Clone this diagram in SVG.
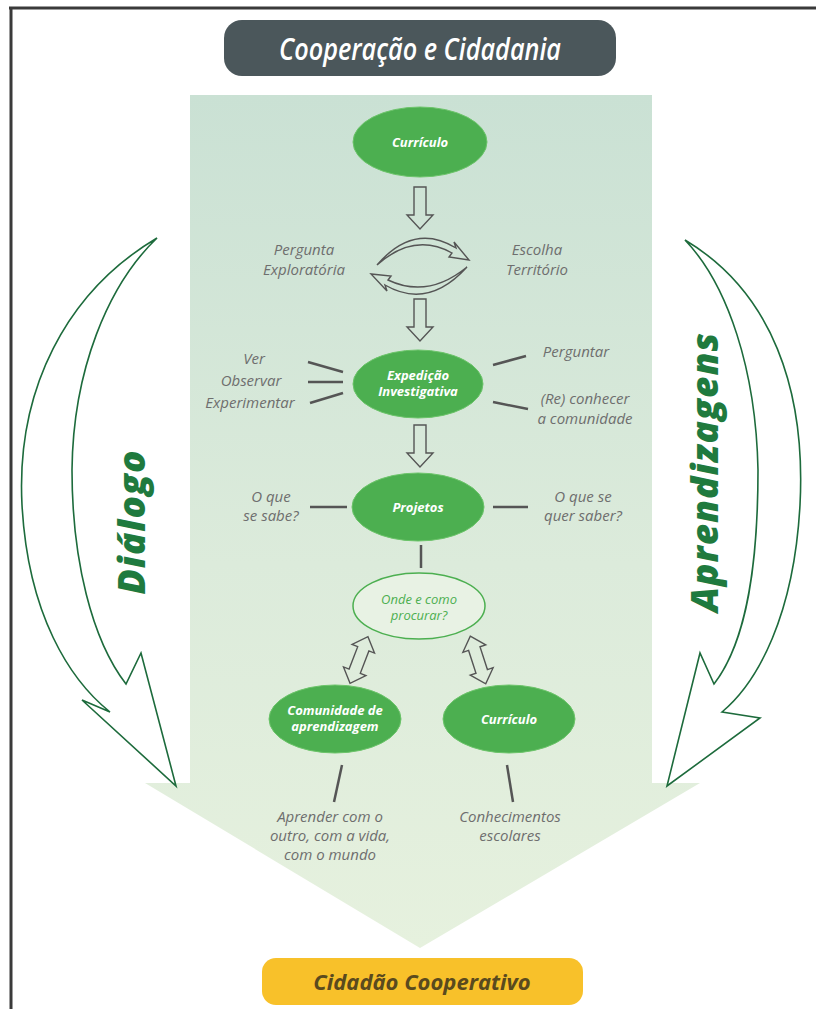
<svg xmlns="http://www.w3.org/2000/svg" width="816" height="1009" viewBox="0 0 816 1009">
  <defs>
    <linearGradient id="panelFill" x1="0" y1="0" x2="0" y2="1">
      <stop offset="0" stop-color="#cae1d4"/>
      <stop offset="0.55" stop-color="#dcebdb"/>
      <stop offset="1" stop-color="#e6f1de"/>
    </linearGradient>
    <!-- hollow block arrow pointing down, 42px long -->
    <path id="downArrow" d="M-6,0 H6 V28 H13 L0,42 L-13,28 H-6 Z"/>
    <!-- hollow double-headed arrow, 50px long -->
    <path id="dblArrow" d="M0,0 L12,13 H6 V37 H12 L0,50 L-12,37 H-6 V13 H-12 Z"/>
    <style>
      .frame { stroke: #3a3a3a; stroke-width: 3; }
      .hollow { fill: none; stroke: #555; stroke-width: 1.4; stroke-linejoin: miter; }
      .tick { stroke: #555; stroke-width: 2.5; stroke-linecap: butt; }
      .node { fill: #4caf50; stroke: #6cc46a; stroke-width: 1; }
      .nodeText { font-family: "Open Sans", "Liberation Sans", sans-serif; font-style: italic; font-weight: 700; font-size: 13px; fill: #ffffff; text-anchor: middle; }
      .label { font-family: "Open Sans", "Liberation Sans", sans-serif; font-style: italic; font-size: 15px; fill: #6e6e6e; text-anchor: middle; }
      .outlineNode { fill: #e8f2e4; stroke: #4caf50; stroke-width: 1.5; }
      .outlineText { font-family: "Open Sans", "Liberation Sans", sans-serif; font-style: italic; font-size: 13px; fill: #4caf50; text-anchor: middle; }
      .bigArrow { fill: #ffffff; stroke: #1d6b3c; stroke-width: 1.6; stroke-linejoin: miter; }
      .sideText { font-family: "Open Sans", "Liberation Sans", sans-serif; font-style: italic; font-weight: 800; font-size: 37px; letter-spacing: 1px; fill: #1f7a3e; text-anchor: middle; }
    </style>
  </defs>

  <rect width="816" height="1009" fill="#ffffff"/>

  <!-- page frame -->
  <line class="frame" x1="9" y1="8" x2="816" y2="8"/>
  <line class="frame" x1="11" y1="7" x2="11" y2="1009"/>

  <!-- central flow panel ending in a wide arrowhead -->
  <path d="M190,95 H652 V783 H700 L420,948 L145,783 H190 Z" fill="url(#panelFill)"/>

  <!-- title -->
  <g id="title">
    <rect x="224" y="20" width="392" height="56" rx="18" fill="#4b575b"/>
    <text x="420" y="60" font-family="Open Sans, Liberation Sans, sans-serif" font-style="italic" font-weight="600" font-size="30" fill="#ffffff" text-anchor="middle" textLength="282" lengthAdjust="spacingAndGlyphs">Cooperação e Cidadania</text>
  </g>

  <!-- side arrows -->
  <g id="dialogo">
    <path class="bigArrow" d="M157,238 C66,292 16,390 22,505 C28,615 70,680 110,712 L82,700 L176,786 L141,653 L126,684 C92,640 72,560 72,470 C73,370 108,285 157,238 Z"/>
    <text class="sideText" transform="translate(145,522) rotate(-90)">Diálogo</text>
  </g>
  <g id="aprendizagens">
    <path class="bigArrow" d="M685,240 C772,292 806,390 800,505 C794,615 758,682 722,712 L760,718 L667,786 L700,653 L714,684 C748,640 758,560 758,470 C756,370 728,285 685,240 Z"/>
    <text class="sideText" transform="translate(718,472) rotate(-90)">Aprendizagens</text>
  </g>

  <!-- connectors -->
  <g id="connectors">
    <use href="#downArrow" class="hollow" transform="translate(420,187)"/>
    <use href="#downArrow" class="hollow" transform="translate(420,299)"/>
    <use href="#downArrow" class="hollow" transform="translate(420,425)"/>

    <!-- cycle between question and territory -->
    <path class="hollow" d="M377,265 Q414,222 456,248 L454,242 L469,260 L449,257 L452,253 Q414,232 377,265 Z"/>
    <path class="hollow" d="M467,267 Q428,310 385,285 L387,291 L371,274 L391,276 L388,280 Q428,299 467,267 Z"/>

    <!-- Expedição spokes -->
    <line class="tick" x1="308" y1="362" x2="343" y2="372"/>
    <line class="tick" x1="308" y1="382" x2="343" y2="382"/>
    <line class="tick" x1="310" y1="403" x2="343" y2="393"/>
    <line class="tick" x1="493" y1="365" x2="526" y2="356"/>
    <line class="tick" x1="493" y1="402" x2="528" y2="409"/>

    <!-- Projetos spokes -->
    <line class="tick" x1="310" y1="507" x2="347" y2="507"/>
    <line class="tick" x1="493" y1="507" x2="528" y2="507"/>
    <line class="tick" x1="421" y1="545" x2="421" y2="568"/>

    <!-- two-way links -->
    <use href="#dblArrow" class="hollow" transform="translate(359,660) rotate(21) translate(0,-25)"/>
    <use href="#dblArrow" class="hollow" transform="translate(478,660) rotate(-18) translate(0,-25)"/>

    <!-- leaders to outcomes -->
    <line class="tick" x1="342" y1="765" x2="334" y2="802"/>
    <line class="tick" x1="507" y1="765" x2="513" y2="802"/>
  </g>

  <!-- nodes -->
  <g id="curriculo-top">
    <ellipse class="node" cx="420" cy="142" rx="67" ry="35"/>
    <text class="nodeText" x="420" y="147">Currículo</text>
  </g>

  <g id="pergunta">
    <text class="label" x="304" y="255">Pergunta</text>
    <text class="label" x="304" y="275">Exploratória</text>
  </g>
  <g id="escolha">
    <text class="label" x="537" y="255">Escolha</text>
    <text class="label" x="537" y="275">Território</text>
  </g>

  <g id="expedicao">
    <ellipse class="node" cx="418" cy="384" rx="65" ry="34"/>
    <text class="nodeText" x="418" y="380">Expedição</text>
    <text class="nodeText" x="418" y="396">Investigativa</text>
  </g>
  <g id="sentidos">
    <text class="label" x="254" y="364">Ver</text>
    <text class="label" x="251" y="386">Observar</text>
    <text class="label" x="250" y="408">Experimentar</text>
  </g>
  <g id="perguntar">
    <text class="label" x="576" y="357">Perguntar</text>
  </g>
  <g id="reconhecer">
    <text class="label" x="585" y="404">(Re) conhecer</text>
    <text class="label" x="585" y="424">a comunidade</text>
  </g>

  <g id="projetos">
    <ellipse class="node" cx="418" cy="507" rx="66" ry="34"/>
    <text class="nodeText" x="418" y="512">Projetos</text>
  </g>
  <g id="sabe">
    <text class="label" x="271" y="502">O que</text>
    <text class="label" x="271" y="521">se sabe?</text>
  </g>
  <g id="quer-saber">
    <text class="label" x="583" y="502">O que se</text>
    <text class="label" x="583" y="521">quer saber?</text>
  </g>

  <g id="onde">
    <ellipse class="outlineNode" cx="419" cy="606" rx="66" ry="33"/>
    <text class="outlineText" x="419" y="604">Onde e como</text>
    <text class="outlineText" x="419" y="620">procurar?</text>
  </g>

  <g id="comunidade">
    <ellipse class="node" cx="335" cy="719" rx="66" ry="34"/>
    <text class="nodeText" x="335" y="715">Comunidade de</text>
    <text class="nodeText" x="335" y="731">aprendizagem</text>
  </g>
  <g id="curriculo-bottom">
    <ellipse class="node" cx="509" cy="719" rx="66" ry="34"/>
    <text class="nodeText" x="509" y="724">Currículo</text>
  </g>

  <g id="aprender">
    <text class="label" x="330" y="822">Aprender com o</text>
    <text class="label" x="330" y="841">outro, com a vida,</text>
    <text class="label" x="330" y="860">com o mundo</text>
  </g>
  <g id="conhecimentos">
    <text class="label" x="510" y="822">Conhecimentos</text>
    <text class="label" x="510" y="841">escolares</text>
  </g>

  <g id="cidadao">
    <rect x="262" y="958" width="321" height="47" rx="14" fill="#f8c12a"/>
    <text x="422" y="990" font-family="Open Sans, Liberation Sans, sans-serif" font-style="italic" font-weight="700" font-size="22" fill="#5a4a1e" text-anchor="middle">Cidadão Cooperativo</text>
  </g>
</svg>
